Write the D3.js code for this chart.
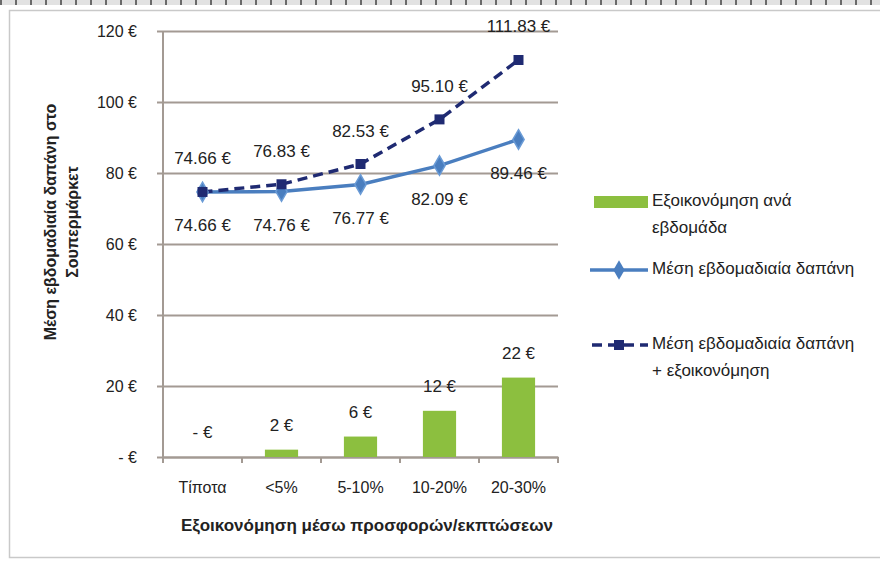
<!DOCTYPE html>
<html>
<head>
<meta charset="utf-8">
<script src="https://cdn.jsdelivr.net/npm/d3@7/dist/d3.min.js"></script>
<style>
  html, body { margin: 0; padding: 0; background: #ffffff; }
  svg { display: block; }
  text { font-family: 'Liberation Sans Narrow', 'Arial Narrow', 'Liberation Sans', Arial, sans-serif; fill: #222; }
</style>
</head>
<body>
<svg id="chart" width="880" height="565"></svg>
<script>
// ---- data ----
const categories = ["Τίποτα", "<5%", "5-10%", "10-20%", "20-30%"];
const spending = [74.66, 74.76, 76.77, 82.09, 89.46];          // Μέση εβδομαδιαία δαπάνη
const spendingPlusSavings = [74.66, 76.83, 82.53, 95.10, 111.83]; // + εξοικονόμηση
const savings = [0, 2.07, 5.76, 13.01, 22.37];                  // Εξοικονόμηση ανά εβδομάδα
const savingsLabels = ["- €", "2 €", "6 €", "12 €", "22 €"];
const yTicks = [0, 20, 40, 60, 80, 100, 120];
const yTickLabels = ["- €", "20 €", "40 €", "60 €", "80 €", "100 €", "120 €"];
const yTitle = ["Μέση εβδομαδιαία δαπάνη στο", "Σουπερμάρκετ"];
const xTitle = "Εξοικονόμηση μέσω προσφορών/εκπτώσεων";
const legendItems = [
  { type: "bar", lines: ["Εξοικονόμηση ανά", "εβδομάδα"] },
  { type: "solid", lines: ["Μέση εβδομαδιαία δαπάνη"] },
  { type: "dashed", lines: ["Μέση εβδομαδιαία δαπάνη", "+ εξοικονόμηση"] }
];

// ---- styles ----
const green = "#8cbf3f";
const blue = "#4a7ebf";
const navy = "#1f2a72";
const gridColor = "#a39a93";
const fmt = v => v.toFixed(2) + " €";
const FONT = "'Liberation Sans Narrow', 'Arial Narrow', 'Liberation Sans', Arial, sans-serif";

const svg = d3.select("#chart");

// frame
svg.append("rect").attr("x", 9.5).attr("y", 10.5).attr("width", 880).attr("height", 547)
  .attr("fill", "#fff").attr("stroke", "#c9c9c9").attr("stroke-width", 1.5);
svg.append("rect").attr("x", 0).attr("y", 0).attr("width", 880).attr("height", 5).attr("fill", "#e2e2e2");
svg.append("line").attr("x1", 0).attr("x2", 880).attr("y1", 2.5).attr("y2", 2.5)
  .attr("stroke", "#6a6a6a").attr("stroke-width", 5).attr("stroke-dasharray", "2,13");

// scales
const x = d3.scaleBand().domain(categories).range([163, 558]).paddingInner(0.58).paddingOuter(0.29);
const xc = d => x(d) + x.bandwidth() / 2;
const y = d3.scaleLinear().domain([0, 120]).range([457, 31]);

// gridlines (via y axis)
const yAxis = d3.axisLeft(y).tickValues(yTicks).tickSize(-(558 - 157)).tickPadding(20)
  .tickFormat((d, i) => yTickLabels[i]);
const gy = svg.append("g").attr("transform", "translate(157,0)").call(yAxis);
gy.select(".domain").remove();
gy.selectAll(".tick line").attr("stroke", gridColor).attr("stroke-width", 2);
gy.selectAll(".tick text").attr("font-size", 16).attr("fill", "#222").style("font-family", FONT);

// y axis line
svg.append("line").attr("x1", 163).attr("x2", 163).attr("y1", y(120)).attr("y2", y(0))
  .attr("stroke", gridColor).attr("stroke-width", 2);

// x axis
const xAxis = d3.axisBottom(x).tickSize(0).tickPadding(25);
const gx = svg.append("g").attr("transform", `translate(0,${y(0)})`).call(xAxis);
gx.select(".domain").attr("stroke", gridColor).attr("stroke-width", 2);
gx.selectAll(".tick text").attr("font-size", 16).attr("fill", "#222").style("font-family", FONT);
// boundary tick marks
const bounds = categories.map(c => x(c) - x.step() * x.paddingInner() / 2).concat([558]);
gx.selectAll(".bt").data(bounds).enter().append("line")
  .attr("x1", d => d).attr("x2", d => d).attr("y1", 0).attr("y2", 6)
  .attr("stroke", gridColor).attr("stroke-width", 2);

// bars
svg.selectAll(".bar").data(savings).enter().append("rect")
  .attr("x", (d, i) => x(categories[i]))
  .attr("width", x.bandwidth())
  .attr("y", d => y(d))
  .attr("height", d => y(0) - y(d))
  .attr("fill", green);
svg.selectAll(".barlab").data(savings).enter().append("text")
  .attr("x", (d, i) => xc(categories[i]))
  .attr("y", d => y(d) - 23)
  .attr("text-anchor", "middle").attr("dominant-baseline", "middle")
  .attr("font-size", 17)
  .text((d, i) => savingsLabels[i]);

// lines
const line = d3.line().x((d, i) => xc(categories[i])).y(d => y(d));
svg.append("path").datum(spending).attr("d", line)
  .attr("fill", "none").attr("stroke", blue).attr("stroke-width", 3.5);
svg.append("path").datum(spendingPlusSavings).attr("d", line)
  .attr("fill", "none").attr("stroke", navy).attr("stroke-width", 3.5).attr("stroke-dasharray", "10,6");

// markers
const diamond = d3.symbol().type(d3.symbolDiamond).size(110);
const square = d3.symbol().type(d3.symbolSquare).size(100);
svg.selectAll(".m1").data(spending).enter().append("path")
  .attr("d", diamond).attr("transform", (d, i) => `translate(${xc(categories[i])},${y(d)})`)
  .attr("fill", blue).attr("stroke", "#6a9bd6").attr("stroke-width", 1.5);
svg.selectAll(".m2").data(spendingPlusSavings).enter().append("path")
  .attr("d", square).attr("transform", (d, i) => `translate(${xc(categories[i])},${y(d)})`)
  .attr("fill", navy);

// data labels
svg.selectAll(".l1").data(spending).enter().append("text")
  .attr("x", (d, i) => xc(categories[i]))
  .attr("y", d => y(d) + 35)
  .attr("text-anchor", "middle").attr("dominant-baseline", "middle")
  .attr("font-size", 17).text(d => fmt(d));
svg.selectAll(".l2").data(spendingPlusSavings).enter().append("text")
  .attr("x", (d, i) => xc(categories[i]))
  .attr("y", d => y(d) - 32)
  .attr("text-anchor", "middle").attr("dominant-baseline", "middle")
  .attr("font-size", 17).text(d => fmt(d));

// y title
const yt = svg.append("text").attr("transform", "translate(56,222) rotate(-90)")
  .attr("text-anchor", "middle").attr("font-size", 16).attr("font-weight", "bold");
yt.selectAll("tspan").data(yTitle).enter().append("tspan")
  .attr("x", 0).attr("dy", (d, i) => i === 0 ? 0 : 22).text(d => d);

// x title
svg.append("text").attr("x", 367).attr("y", 527).attr("text-anchor", "middle")
  .attr("dominant-baseline", "middle").attr("font-size", 17).attr("font-weight", "bold").text(xTitle);

// legend
const legendY = [202, 270, 345];
const lg = svg.append("g");
legendItems.forEach((it, k) => {
  const g = lg.append("g").attr("transform", `translate(590,${legendY[k]})`);
  if (it.type === "bar") {
    g.append("rect").attr("x", 4).attr("y", -6).attr("width", 54).attr("height", 12).attr("fill", green);
  } else if (it.type === "solid") {
    g.append("line").attr("x1", 0).attr("x2", 58).attr("stroke", blue).attr("stroke-width", 3.5);
    g.append("path").attr("d", diamond).attr("transform", "translate(29,0)").attr("fill", blue);
  } else {
    g.append("line").attr("x1", 0).attr("x2", 58).attr("stroke", navy).attr("stroke-width", 3.5)
      .attr("stroke-dasharray", "10,6").attr("stroke-dashoffset", -2);
    g.append("path").attr("d", square).attr("transform", "translate(29,0)").attr("fill", navy);
  }
  g.selectAll("text").data(it.lines).enter().append("text")
    .attr("x", 62).attr("y", (d, i) => i * 27)
    .attr("dominant-baseline", "middle").attr("font-size", 17).text(d => d);
});
</script>
</body>
</html>
